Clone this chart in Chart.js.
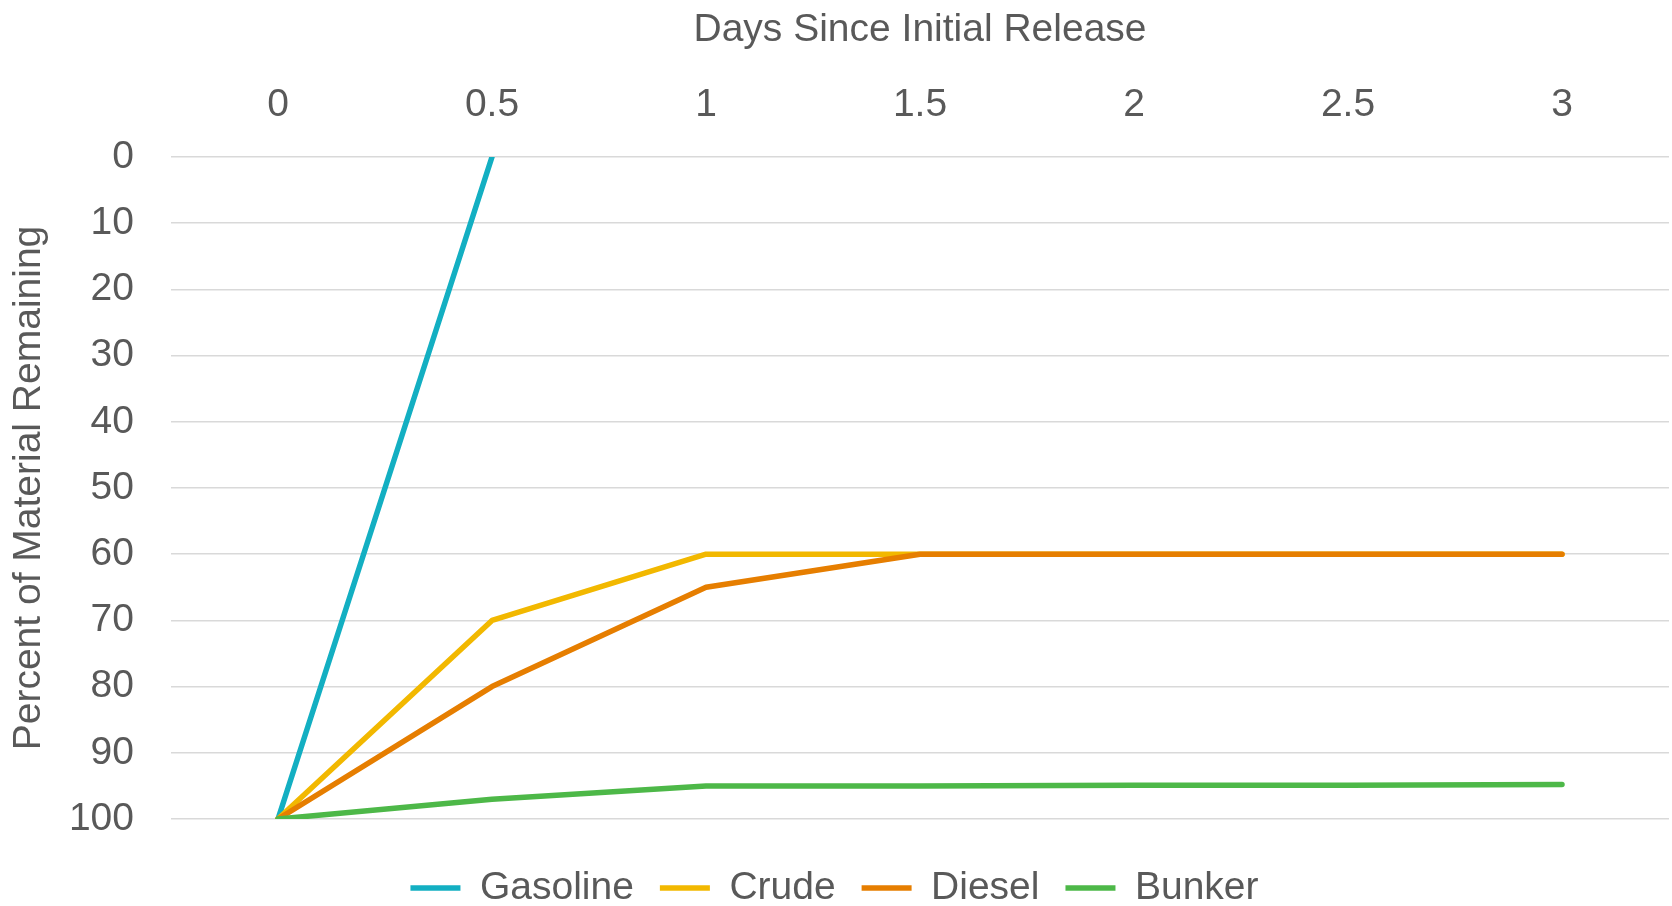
<!DOCTYPE html>
<html>
<head>
<meta charset="utf-8">
<script src="https://cdn.jsdelivr.net/npm/chart.js@4"></script>
<style>
  html, body { margin: 0; padding: 0; background: #ffffff; }
  #wrap { width: 1672px; height: 906px; }
</style>
</head>
<body>
<div id="wrap"><canvas id="c" width="1672" height="906"></canvas></div>
<script>
const days = ['0', '0.5', '1', '1.5', '2', '2.5', '3'];
const gasoline = [100, 0, null, null, null, null, null];
const crude = [100, 70, 60, 60, 60, 60, 60];
const diesel = [100, 80, 65, 60, 60, 60, 60];
const bunker = [100, 97, 95, 95, 94.9, 94.9, 94.8];
const seriesNames = ['Gasoline', 'Crude', 'Diesel', 'Bunker'];
const seriesColors = ['#13AFC2', '#F2B800', '#E67E00', '#4DB848'];
const yTicks = [0, 10, 20, 30, 40, 50, 60, 70, 80, 90, 100];

const TEXT = '#595959';
const FONT = "'Liberation Sans', Arial, sans-serif";
const FS = 39;

const seriesData = [gasoline, crude, diesel, bunker];
const datasets = seriesNames.map((n, i) => ({
  label: n,
  data: seriesData[i],
  borderColor: seriesColors[i],
  backgroundColor: seriesColors[i],
  borderWidth: 5.5,
  pointRadius: 0,
  pointHoverRadius: 0,
  tension: 0,
  fill: false,
  spanGaps: false,
  borderCapStyle: 'round',
  borderJoinStyle: 'round',
  pointStyle: 'line',
  order: seriesNames.length - 1 - i
}));

new Chart(document.getElementById('c'), {
  type: 'line',
  data: { labels: days, datasets },
  options: {
    responsive: false,
    animation: false,
    devicePixelRatio: 1,
    layout: { padding: { left: 0, right: 3, top: 0, bottom: -11.5 } },
    font: { family: FONT },
    scales: {
      x: {
        type: 'category',
        position: 'top',
        offset: true,
        grid: { display: false, drawTicks: false },
        border: { display: false },
        ticks: { color: TEXT, font: { family: FONT, size: FS }, padding: 28, maxRotation: 0, autoSkip: false },
        title: { display: true, text: 'Days Since Initial Release', color: TEXT, font: { family: FONT, size: FS }, padding: { top: 7, bottom: 0 } },
        afterFit: s => { s.height = 157; }
      },
      x2: {
        type: 'category',
        position: 'bottom',
        display: true,
        grid: { display: false, drawTicks: false },
        border: { display: false },
        ticks: { display: false },
        afterFit: s => { s.height = 23.5; }
      },
      y: {
        reverse: true,
        min: 0,
        max: 100,
        afterBuildTicks: s => { s.ticks = yTicks.map(v => ({ value: v })); },
        grid: { color: '#D9D9D9', lineWidth: 1.5, drawTicks: false },
        border: { display: false },
        ticks: { color: TEXT, font: { family: FONT, size: FS }, padding: 37 },
        title: { display: true, text: 'Percent of Material Remaining', color: TEXT, font: { family: FONT, size: FS }, padding: { top: 6, bottom: 0 } },
        afterFit: s => { s.width = 171; }
      }
    },
    plugins: {
      legend: {
        position: 'bottom',
        labels: {
          color: TEXT,
          font: { family: FONT, size: FS },
          usePointStyle: true,
          pointStyle: 'line',
          pointStyleWidth: 50,
          boxHeight: 5,
          padding: 26,
          sort: (a, b) => a.datasetIndex - b.datasetIndex
        }
      },
      tooltip: { enabled: false }
    }
  }
});
</script>
</body>
</html>
